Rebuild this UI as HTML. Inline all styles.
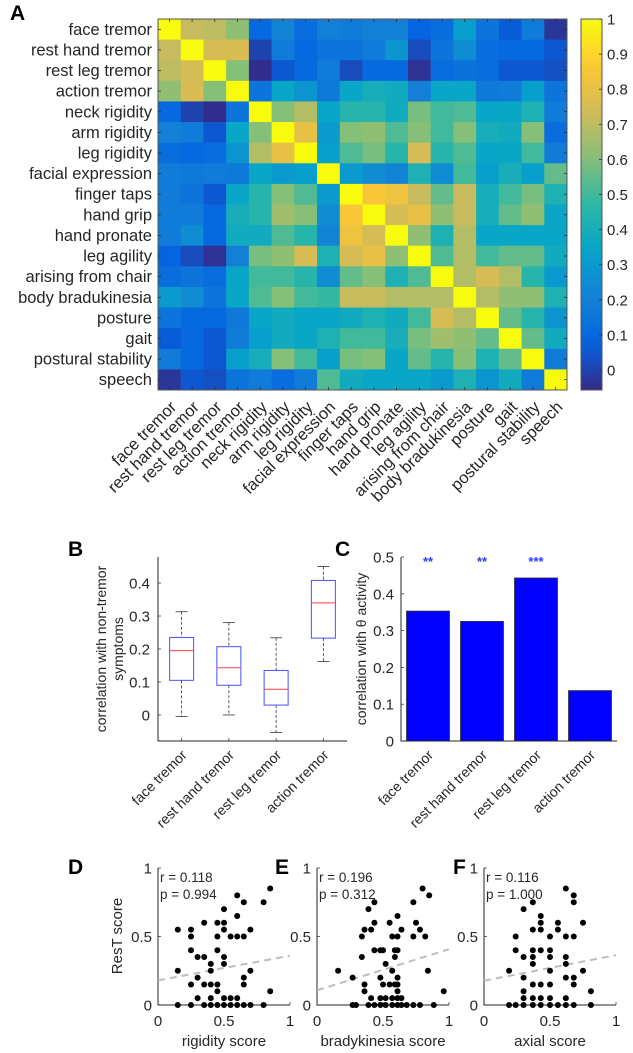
<!DOCTYPE html>
<html><head><meta charset="utf-8">
<style>
html,body{margin:0;padding:0;background:#fff;}
svg{display:block;font-family:"Liberation Sans",Arial,sans-serif;}
</style></head>
<body>
<svg id="fig" width="633" height="1053" viewBox="0 0 633 1053" xmlns="http://www.w3.org/2000/svg"></svg>
<script>
// ---------- Panel A data ----------
const symptoms = ["face tremor","rest hand tremor","rest leg tremor","action tremor","neck rigidity","arm rigidity","leg rigidity","facial expression","finger taps","hand grip","hand pronate","leg agility","arising from chair","body bradukinesia","posture","gait","postural stability","speech"];
const corrRows = [
[1,.72,.7,.62,.1,.22,.12,.2,.18,.2,.2,.08,.12,.32,.15,.06,.18,-.03],
[.72,1,.75,.76,0,.18,.1,.15,.15,.18,.28,.02,.15,.25,.12,.1,.1,.05],
[.7,.75,1,.6,-.05,.05,.1,.18,.02,.1,.1,-.04,.12,.14,.12,.05,.05,.03],
[.62,.76,.6,1,.15,.35,.28,.17,.35,.4,.38,.2,.35,.35,.17,.18,.32,.15],
[.1,0,-.05,.15,1,.6,.68,.35,.45,.45,.38,.58,.5,.52,.35,.35,.42,.18],
[.2,.18,.05,.35,.6,1,.8,.3,.6,.62,.52,.6,.5,.6,.4,.38,.6,.12],
[.12,.1,.12,.28,.68,.8,1,.32,.52,.58,.45,.75,.45,.52,.35,.35,.5,.18],
[.18,.17,.18,.17,.35,.3,.32,1,.3,.25,.22,.42,.25,.5,.32,.4,.32,.55],
[.18,.15,.05,.35,.45,.6,.52,.3,1,.85,.82,.72,.55,.72,.4,.5,.58,.42],
[.18,.18,.1,.4,.45,.65,.6,.25,.85,1,.75,.8,.62,.72,.4,.55,.62,.35],
[.18,.25,.1,.38,.38,.52,.45,.22,.82,.75,1,.62,.42,.68,.35,.35,.35,.35],
[.08,.02,-.04,.2,.58,.62,.75,.42,.75,.8,.62,1,.52,.68,.5,.55,.55,.38],
[.12,.15,.12,.35,.5,.5,.45,.25,.55,.6,.42,.52,1,.68,.75,.68,.45,.3],
[.3,.25,.15,.35,.52,.6,.5,.48,.72,.72,.68,.68,.68,1,.68,.62,.62,.42],
[.15,.1,.1,.17,.35,.38,.35,.35,.38,.42,.38,.5,.75,.68,1,.55,.45,.28],
[.06,.1,.05,.18,.32,.38,.35,.42,.5,.5,.4,.58,.65,.62,.55,1,.55,.38],
[.18,.1,.05,.32,.4,.6,.5,.32,.58,.6,.35,.55,.45,.6,.42,.55,1,.18],
[-.03,.05,.03,.15,.18,.12,.18,.52,.38,.35,.35,.35,.3,.42,.28,.38,.18,1]];
const cbarTicks = [0,0.1,0.2,0.3,0.4,0.5,0.6,0.7,0.8,0.9,1];
// ---------- Panel B data ----------
const tremorCats = ["face tremor","rest hand tremor","rest leg tremor","action tremor"];
const boxLow = [-0.005,0.0,-0.053,0.162];
const boxQ1 = [0.105,0.09,0.03,0.233];
const boxMed = [0.195,0.143,0.078,0.34];
const boxQ3 = [0.235,0.207,0.135,0.408];
const boxHigh = [0.313,0.28,0.234,0.45];
const bTicks = [0,0.1,0.2,0.3,0.4];
// ---------- Panel C data ----------
const thetaCorr = [0.353,0.325,0.443,0.137];
const thetaStars = ["**","**","***",""];
const cTicks = [0,0.1,0.2,0.3,0.4,0.5];
// ---------- Panels D-F data ----------
const dX = [.15,.25,.25,.35,.45,.5,.5,.5,.6,.45,.55,.6,.65,.7,.25,.3,.35,.45,.5,.5,.4,.4,.15,.7,.65,.65,.3,.25,.35,.4,.45,.45,.3,.4,.5,.55,.6,.85,.15,.25,.35,.4,.45,.5,.55,.6,.65,.7,.8,.6,.65,.8,.85];
const dY = [.55,.55,.5,.6,.6,.6,.55,.7,.65,.5,.5,.5,.5,.55,.4,.35,.35,.4,.35,.3,.3,.25,.25,.25,.2,.15,.2,.15,.15,.15,.15,.1,.05,.05,.05,.05,.05,.1,0,0,0,0,0,0,0,0,0,0,0,.8,.75,.75,.85];
const eX = [.16,.27,.34,.34,.36,.41,.435,.39,.435,.36,.36,.41,.435,.48,.5,.48,.52,.55,.57,.59,.61,.61,.59,.61,.57,.61,.5,.55,.59,.61,.61,.48,.52,.57,.61,.64,.64,.73,.75,.78,.82,.73,.84,.96,.27,.295,.39,.435,.48,.52,.57,.61,.64,.68,.73,.78,.885,.8,.85];
const eY = [.25,.2,.5,.35,.55,.55,.6,.7,.75,.15,.1,.05,.4,.4,.4,.2,.3,.6,.5,.35,.65,.5,.4,.4,.25,.2,.15,.15,.15,.15,.1,.05,.05,.05,.05,.05,.55,.75,.6,.55,.5,.5,.25,.1,0,0,0,0,0,0,0,0,0,0,0,0,0,.85,.8];
const fX = [.19,.24,.24,.3,.3,.3,.3,.3,.37,.37,.37,.37,.37,.37,.37,.43,.43,.43,.43,.43,.43,.5,.5,.5,.5,.5,.5,.56,.56,.62,.62,.62,.62,.62,.68,.68,.68,.68,.75,.75,.81,.19,.24,.3,.37,.43,.5,.56,.62,.68,.81,.62,.68];
const fY = [.25,.5,.4,.7,.35,.2,.1,.05,.75,.55,.4,.35,.3,.15,.05,.65,.6,.55,.4,.15,.05,.5,.4,.35,.25,.15,.05,.6,.55,.5,.35,.3,.2,.05,.5,.2,.15,.75,.6,.25,.1,0,0,0,0,0,0,0,0,0,0,.85,.8];
const fitIntercept = [0.18,0.107,0.177];
const fitSlope = [0.18,0.30,0.187];
const rText = ["r = 0.118","r = 0.196","r = 0.116"];
const pText = ["p = 0.994","p = 0.312","p = 1.000"];
const scatXLabels = ["rigidity score","bradykinesia score","axial score"];
const scatTicks = [0,0.5,1];

// ---------- helpers ----------
const svg = document.getElementById('fig');
const NS = "http://www.w3.org/2000/svg";
function mk(tag, attrs, parent){
  const e = document.createElementNS(NS, tag);
  for (const k in attrs) e.setAttribute(k, attrs[k]);
  (parent||svg).appendChild(e);
  return e;
}
function txt(s, attrs, parent){ const t = mk('text', attrs, parent); t.textContent = s; return t; }
const INK = "#262626";
const parulaStops = [[53,42,135],[3,99,225],[20,129,214],[6,164,202],[46,183,164],[135,191,119],[209,187,89],[254,200,50],[249,251,14]];
function parula(t){
  t = Math.max(0, Math.min(1, t));
  const p = t*(parulaStops.length-1), i = Math.min(Math.floor(p), parulaStops.length-2), f = p-i;
  const a = parulaStops[i], b = parulaStops[i+1];
  return `rgb(${Math.round(a[0]+(b[0]-a[0])*f)},${Math.round(a[1]+(b[1]-a[1])*f)},${Math.round(a[2]+(b[2]-a[2])*f)})`;
}

// ---------- Panel A ----------
const hx0 = 158, hx1 = 567, hy0 = 19, hy1 = 390;
const vmin = -0.057, vmax = 1;
const n = symptoms.length, cw = (hx1-hx0)/n, ch = (hy1-hy0)/n;
const tA = txt("A", {x:10, y:20, 'font-size':21, 'font-weight':'bold', fill:'#000'});
 
const gA = mk('g', {});
 
corrRows.forEach((row, r) => {
  row.forEach((v, c) => {
    const cell = mk('rect', {x:hx0+c*cw, y:hy0+r*ch, width:cw+0.4, height:ch+0.4, fill:parula((v-vmin)/(vmax-vmin))}, gA);
     
  });
});
mk('rect', {x:hx0, y:hy0, width:hx1-hx0, height:hy1-hy0, fill:'none', stroke:'#555', 'stroke-width':1}, gA);
symptoms.forEach((s, i) => {
  const cy = hy0 + (i+0.5)*ch, cx = hx0 + (i+0.5)*cw;
  mk('line', {x1:hx0, x2:hx0+3, y1:cy, y2:cy, stroke:INK, 'stroke-width':0.7}, gA);
  mk('line', {x1:hx1, x2:hx1-3, y1:cy, y2:cy, stroke:INK, 'stroke-width':0.7}, gA);
  mk('line', {x1:cx, x2:cx, y1:hy1, y2:hy1-3, stroke:INK, 'stroke-width':0.7}, gA);
  mk('line', {x1:cx, x2:cx, y1:hy0, y2:hy0+3, stroke:INK, 'stroke-width':0.7}, gA);
  const yl = txt(s, {x:152, y:cy+5.5, 'text-anchor':'end', 'font-size':16.5, fill:INK});
   
  const xl = txt(s, {x:cx+8, y:408, 'text-anchor':'end', 'font-size':16.5, fill:INK, transform:`rotate(-45 ${cx+8} 408)`});
   
});
// colorbar
const cbx = 581, cbw = 21;
const defs = mk('defs', {});
const grad = mk('linearGradient', {id:'parulaGrad', x1:0, y1:1, x2:0, y2:0}, defs);
for (let i=0;i<=20;i++){ mk('stop', {offset:i/20, 'stop-color':parula(i/20)}, grad); }
const cb = mk('rect', {x:cbx, y:hy0, width:cbw, height:hy1-hy0, fill:'url(#parulaGrad)', stroke:'#555', 'stroke-width':1});
 
cbarTicks.forEach(v => {
  const y = hy1 - (v-vmin)/(vmax-vmin)*(hy1-hy0);
  mk('line', {x1:cbx+cbw, x2:cbx+cbw-3, y1:y, y2:y, stroke:INK, 'stroke-width':0.7});
  const t = txt(String(v), {x:607, y:y+5.5, 'font-size':15, fill:INK});
   
});

// ---------- Panel B ----------
const bx0 = 158, bx1 = 347, by0 = 557, by1 = 741, bmin = -0.079, bmax = 0.479;
const bX = i => bx0 + (i+0.5)*(bx1-bx0)/tremorCats.length;
const bY = v => by1 - (v-bmin)/(bmax-bmin)*(by1-by0);
const tB = txt("B", {x:68, y:556, 'font-size':21, 'font-weight':'bold', fill:'#000'});
 
mk('path', {d:`M${bx0} ${by0} V${by1} H${bx1}`, fill:'none', stroke:INK, 'stroke-width':1});
bTicks.forEach(v => {
  const y = bY(v);
  mk('line', {x1:bx0, x2:bx0+3, y1:y, y2:y, stroke:INK, 'stroke-width':0.7});
  const t = txt(String(v), {x:bx0-8, y:y+5.5, 'text-anchor':'end', 'font-size':15, fill:INK});
   
});
const bYl = txt("correlation with non-tremor", {x:0, y:0, 'text-anchor':'middle', 'font-size':14, fill:INK, transform:`translate(106 649) rotate(-90)`});
 
const bYl2 = txt("symptoms", {x:0, y:0, 'text-anchor':'middle', 'font-size':14, fill:INK, transform:`translate(123 649) rotate(-90)`});
 
tremorCats.forEach((c, i) => {
  const cx = bX(i), hw = 12;
  const g = mk('g', {});
   
  mk('line', {x1:cx, x2:cx, y1:bY(boxHigh[i]), y2:bY(boxQ3[i]), stroke:'#333', 'stroke-dasharray':'3 2', 'stroke-width':0.8}, g);
  mk('line', {x1:cx, x2:cx, y1:bY(boxQ1[i]), y2:bY(boxLow[i]), stroke:'#333', 'stroke-dasharray':'3 2', 'stroke-width':0.8}, g);
  mk('line', {x1:cx-6, x2:cx+6, y1:bY(boxHigh[i]), y2:bY(boxHigh[i]), stroke:'#333', 'stroke-width':0.8}, g);
  mk('line', {x1:cx-6, x2:cx+6, y1:bY(boxLow[i]), y2:bY(boxLow[i]), stroke:'#333', 'stroke-width':0.8}, g);
  mk('rect', {x:cx-hw, y:bY(boxQ3[i]), width:2*hw, height:bY(boxQ1[i])-bY(boxQ3[i]), fill:'none', stroke:'#4d4dff', 'stroke-width':1}, g);
  mk('line', {x1:cx-hw, x2:cx+hw, y1:bY(boxMed[i]), y2:bY(boxMed[i]), stroke:'#ff4040', 'stroke-width':1}, g);
  mk('line', {x1:cx, x2:cx, y1:by1, y2:by1-3, stroke:INK, 'stroke-width':0.7});
  const t = txt(c, {x:cx+6, y:756, 'text-anchor':'end', 'font-size':14, fill:INK, transform:`rotate(-45 ${cx+6} 756)`});
   
});

// ---------- Panel C ----------
const cx0 = 401, cx1 = 617, cy0 = 557, cy1 = 741, cmax = 0.5;
const cX = i => cx0 + (i+0.5)*(cx1-cx0)/tremorCats.length;
const cY = v => cy1 - v/cmax*(cy1-cy0);
const tC = txt("C", {x:335, y:556, 'font-size':21, 'font-weight':'bold', fill:'#000'});
 
thetaCorr.forEach((v, i) => {
  const bar = mk('rect', {x:cX(i)-21.5, y:cY(v), width:43, height:cy1-cY(v), fill:'#0000ff', stroke:'#333', 'stroke-width':0.8});
   
  if (thetaStars[i]) {
    const s = txt(thetaStars[i], {x:cX(i), y:cY(cmax)+9, 'text-anchor':'middle', 'font-size':13, 'font-weight':'bold', fill:'#2a3cff'});
     
  }
  mk('line', {x1:cX(i), x2:cX(i), y1:cy1, y2:cy1-3, stroke:INK, 'stroke-width':0.7});
  const t = txt(tremorCats[i], {x:cX(i)+6, y:756, 'text-anchor':'end', 'font-size':14, fill:INK, transform:`rotate(-45 ${cX(i)+6} 756)`});
   
});
mk('path', {d:`M${cx0} ${cy0} V${cy1} H${cx1}`, fill:'none', stroke:INK, 'stroke-width':1});
cTicks.forEach(v => {
  const y = cY(v);
  mk('line', {x1:cx0, x2:cx0+3, y1:y, y2:y, stroke:INK, 'stroke-width':0.7});
  const t = txt(String(v), {x:cx0-7, y:y+5.5, 'text-anchor':'end', 'font-size':15, fill:INK});
   
});
const cYl = txt("correlation with θ activity", {x:0, y:0, 'text-anchor':'middle', 'font-size':14, fill:INK, transform:`translate(366 649) rotate(-90)`});
 

// ---------- Panels D-F ----------
const scatAxes = [158, 317, 484];
const scatW = 132, sy0 = 868, sy1 = 1005;
const scatLetters = ["D","E","F"];
const letterX = [68, 275, 453];
const xs = [dX, eX, fX], ys = [dY, eY, fY];
scatAxes.forEach((ax0, k) => {
  const sx = v => ax0 + v*scatW;
  const sy = v => sy1 - v*(sy1-sy0);
  const L = txt(scatLetters[k], {x:letterX[k], y:874, 'font-size':21, 'font-weight':'bold', fill:'#000'});
   
  mk('path', {d:`M${ax0} ${sy0} V${sy1} H${ax0+scatW}`, fill:'none', stroke:INK, 'stroke-width':1});
  scatTicks.forEach(v => {
    mk('line', {x1:ax0, x2:ax0+3, y1:sy(v), y2:sy(v), stroke:INK, 'stroke-width':0.7});
    mk('line', {x1:sx(v), x2:sx(v), y1:sy1, y2:sy1-3, stroke:INK, 'stroke-width':0.7});
    const ty = txt(String(v), {x:ax0-6, y:sy(v)+5.5, 'text-anchor':'end', 'font-size':15, fill:INK});
     
    const tx = txt(String(v), {x:sx(v), y:1026, 'text-anchor':'middle', 'font-size':15, fill:INK});
     
  });
  const fit = mk('line', {x1:sx(0), y1:sy(fitIntercept[k]), x2:sx(1), y2:sy(fitIntercept[k]+fitSlope[k]), stroke:'#bdbdbd', 'stroke-width':2, 'stroke-dasharray':'7 5'});
   
  xs[k].forEach((v, i) => {
    const dot = mk('circle', {cx:sx(v), cy:sy(ys[k][i]), r:3, fill:'#000'});
     
  });
  const r = txt(rText[k], {x:ax0+2, y:882, 'font-size':13.5, fill:INK});
   
  const p = txt(pText[k], {x:ax0+2, y:899, 'font-size':13.5, fill:INK});
   
  const xl = txt(scatXLabels[k], {x:ax0+scatW/2, y:1046, 'text-anchor':'middle', 'font-size':15, fill:INK});
   
});
const rl = txt("ResT score", {x:0, y:0, 'text-anchor':'middle', 'font-size':15, fill:INK, transform:`translate(122 936) rotate(-90)`});
 
</script>
</body></html>
